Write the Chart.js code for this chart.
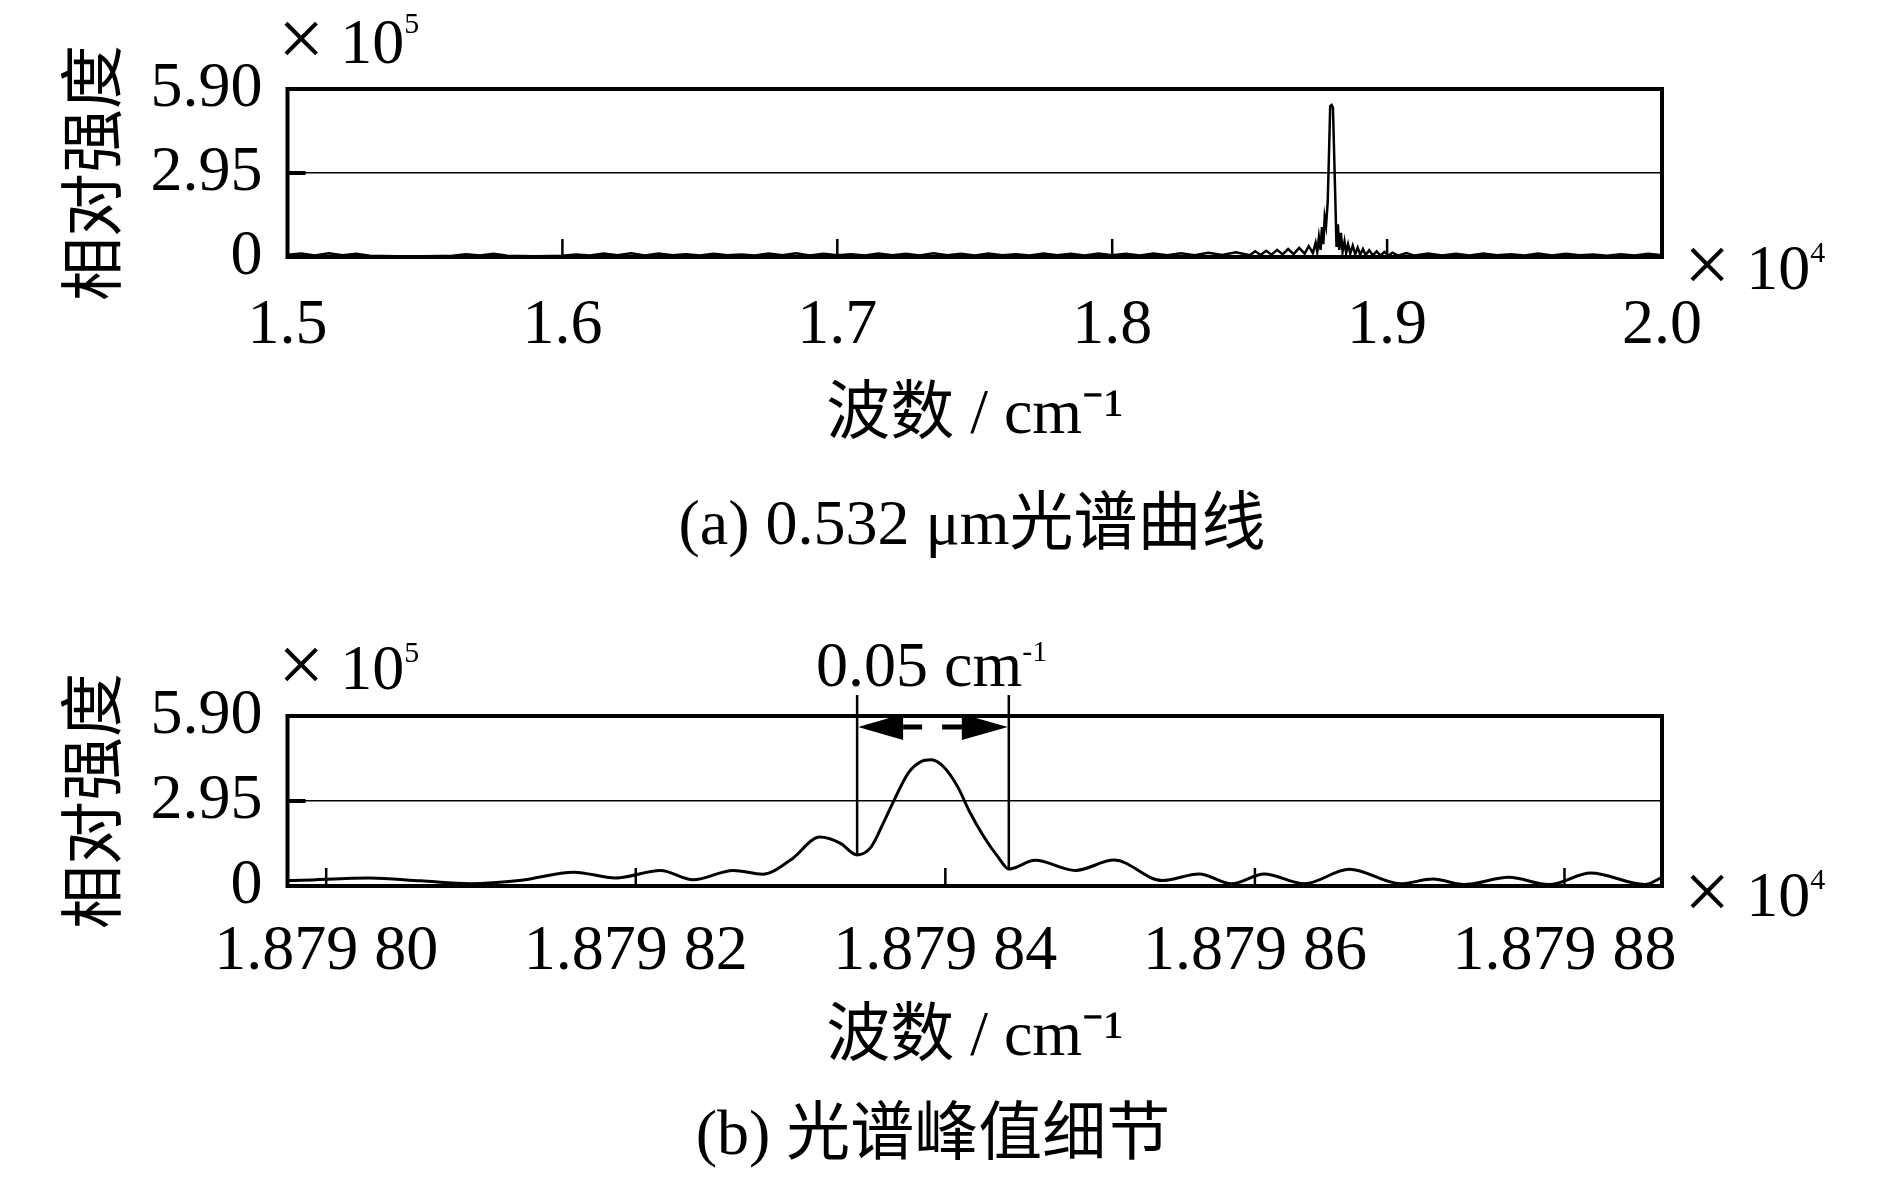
<!DOCTYPE html>
<html>
<head>
<meta charset="utf-8">
<script src="https://cdn.jsdelivr.net/npm/chart.js@4.4.1/dist/chart.umd.min.js"></script>
<style>
  body { margin: 0; background: #fff; }
  #page { position: relative; width: 1890px; height: 1181px; overflow: hidden; background: #fff; }
  canvas { position: absolute; left: 0; }
  .txt { position: absolute; font-family: 'Liberation Serif', 'Noto Sans CJK SC', serif; font-size: 64px; line-height: 64px; white-space: nowrap; color: #000; }
  .sup { position: relative; font-size: 30px; }
  .times { position: relative; top: 3px; font-size: 82px; line-height: 0; }
  .mid { transform: translateX(-50%); }
</style>
</head>
<body>
<div id="page">
  <canvas id="spectrum" width="1890" height="600" style="top:0"></canvas>
  <canvas id="detail" width="1890" height="581" style="top:600px"></canvas>

  <div class="txt" style="left:278px; top:10px"><span class="times">×</span> 10<span class="sup" style="top:-30px">5</span></div>
  <div class="txt" style="left:1684px; top:236px"><span class="times">×</span> 10<span class="sup" style="top:-27px">4</span></div>
  <div class="txt mid" style="left:972px; top:491px">(a) 0.532 μm光谱曲线</div>

  <div class="txt" style="left:278px; top:636px"><span class="times">×</span> 10<span class="sup" style="top:-27px">5</span></div>
  <div class="txt" style="left:816px; top:633px">0.05 cm<span class="sup" style="top:-25px">-1</span></div>
  <div class="txt" style="left:1684px; top:863px"><span class="times">×</span> 10<span class="sup" style="top:-27px">4</span></div>
  <div class="txt mid" style="left:933px; top:1101px">(b) 光谱峰值细节</div>
</div>
<script>
const FONT = "'Liberation Serif', 'Noto Sans CJK SC', serif";

// y axis (both panels), relative intensity x 10^5
const yTicks = [0, 2.95, 5.9];
const yTickLabels = ['0', '2.95', '5.90'];

// (a) full spectrum, wavenumber x 10^4 cm^-1
const xTicksA = [1.5, 1.6, 1.7, 1.8, 1.9, 2.0];
const xTickLabelsA = ['1.5', '1.6', '1.7', '1.8', '1.9', '2.0'];
const waveA = [
  1.500, 1.505, 1.510, 1.515, 1.520, 1.525, 1.530, 1.540, 1.550, 1.560,
  1.565, 1.570, 1.575, 1.580, 1.590, 1.600, 1.605, 1.610, 1.615, 1.620,
  1.625, 1.630, 1.635, 1.640, 1.645, 1.650, 1.655, 1.660, 1.665, 1.670,
  1.675, 1.680, 1.685, 1.690, 1.695, 1.700, 1.705, 1.710, 1.715, 1.720,
  1.725, 1.730, 1.735, 1.740, 1.745, 1.750, 1.755, 1.760, 1.765, 1.770,
  1.775, 1.780, 1.785, 1.790, 1.795, 1.800, 1.805, 1.810, 1.815, 1.820,
  1.825, 1.830, 1.835, 1.840, 1.845, 1.850, 1.852, 1.854, 1.856, 1.858,
  1.860, 1.862, 1.864, 1.866, 1.868, 1.870, 1.8715, 1.873, 1.8740, 1.8746,
  1.8752, 1.8758, 1.8763, 1.8768, 1.8773, 1.8778, 1.8784, 1.8788, 1.8793, 1.8798,
  1.8803, 1.8808, 1.8812, 1.8816, 1.8821, 1.8826, 1.8832, 1.8838, 1.8845, 1.8851,
  1.8858, 1.8866, 1.8875, 1.8884, 1.8893, 1.8902, 1.8912, 1.8922, 1.8935, 1.8948,
  1.8962, 1.8976, 1.8990, 1.9005, 1.902, 1.904, 1.907, 1.910, 1.915, 1.920,
  1.925, 1.930, 1.935, 1.940, 1.945, 1.950, 1.955, 1.960, 1.965, 1.970,
  1.975, 1.980, 1.985, 1.990, 1.995, 2.000
];
const intensityA = [
  0.08, 0.12, 0.05, 0.13, 0.06, 0.11, 0.04, 0.03, 0.03, 0.04,
  0.10, 0.05, 0.11, 0.04, 0.03, 0.04, 0.09, 0.05, 0.12, 0.06,
  0.13, 0.05, 0.12, 0.06, 0.10, 0.05, 0.11, 0.06, 0.09, 0.05,
  0.12, 0.06, 0.13, 0.05, 0.11, 0.06, 0.10, 0.05, 0.12, 0.06,
  0.11, 0.05, 0.13, 0.06, 0.11, 0.05, 0.12, 0.06, 0.10, 0.05,
  0.12, 0.06, 0.11, 0.05, 0.12, 0.06, 0.11, 0.05, 0.12, 0.06,
  0.13, 0.06, 0.15, 0.07, 0.17, 0.06, 0.20, 0.07, 0.22, 0.08,
  0.25, 0.09, 0.28, 0.10, 0.32, 0.12, 0.38, 0.14, 0.50, 0.18,
  0.70, 0.25, 1.05, 0.45, 1.40, 1.10, 1.95, 3.40, 5.30, 5.34,
  5.25, 3.40, 1.90, 0.35, 1.15, 0.25, 0.85, 0.18, 0.55, 0.14,
  0.45, 0.12, 0.40, 0.10, 0.33, 0.08, 0.28, 0.07, 0.24, 0.06,
  0.20, 0.05, 0.18, 0.05, 0.15, 0.05, 0.14, 0.05, 0.12, 0.05,
  0.11, 0.05, 0.12, 0.06, 0.10, 0.05, 0.12, 0.05, 0.11, 0.06,
  0.09, 0.04, 0.10, 0.05, 0.11, 0.06
];

// (b) peak detail
const xTicksB = [1.8798, 1.87982, 1.87984, 1.87986, 1.87988];
const xTickLabelsB = ['1.879 80', '1.879 82', '1.879 84', '1.879 86', '1.879 88'];
const waveB = [
  1.8797976, 1.8797984, 1.8798028, 1.8798061, 1.8798093, 1.8798126, 1.8798160, 1.8798187,
  1.8798216, 1.8798237, 1.8798263, 1.8798282, 1.8798300, 1.8798319, 1.8798332, 1.8798343,
  1.8798352, 1.8798360, 1.8798367, 1.8798376, 1.8798384, 1.8798391, 1.8798399, 1.8798408,
  1.8798416, 1.8798425, 1.8798434, 1.8798441, 1.8798444, 1.8798458, 1.8798484, 1.8798509,
  1.8798540, 1.8798564, 1.8798585, 1.8798606, 1.8798632, 1.8798661, 1.8798694, 1.8798715,
  1.8798735, 1.8798764, 1.8798790, 1.8798817, 1.8798852, 1.8798863
];
const intensityB = [
  0.19, 0.20, 0.28, 0.18, 0.08, 0.20, 0.48, 0.28,
  0.54, 0.22, 0.54, 0.41, 0.90, 1.70, 1.49, 1.08,
  1.35, 2.19, 2.99, 3.92, 4.31, 4.38, 4.13, 3.44,
  2.54, 1.70, 1.01, 0.59, 0.62, 0.89, 0.54, 0.90,
  0.19, 0.42, 0.08, 0.42, 0.08, 0.58, 0.08, 0.24,
  0.05, 0.30, 0.05, 0.45, 0.05, 0.30
];
// the two marked wavenumbers of the 0.05 cm^-1 span
const spanWaves = [1.8798343, 1.8798441];

// plot box and inward tick marks
const frame = {
  id: 'frame',
  afterDatasetsDraw(chart) {
    const {ctx, chartArea: a, scales: {x, y}} = chart;
    ctx.save();
    ctx.strokeStyle = '#000';
    ctx.lineWidth = 2.5;
    ctx.beginPath();
    x.ticks.forEach(t => {
      const px = x.getPixelForValue(t.value);
      ctx.moveTo(px, a.bottom);
      ctx.lineTo(px, a.bottom - 18);
    });
    ctx.stroke();
    const py = y.getPixelForValue(yTicks[1]);
    ctx.lineWidth = 4;
    ctx.beginPath();
    ctx.moveTo(a.left, py);
    ctx.lineTo(a.left + 18, py);
    ctx.stroke();
    ctx.strokeRect(a.left, a.top, a.right - a.left, a.bottom - a.top);
    ctx.restore();
  }
};

// the two vertical markers and the dashed double arrow in (b)
const spanMarks = {
  id: 'spanMarks',
  afterDatasetsDraw(chart) {
    const {ctx, chartArea: a, scales: {x, y}} = chart;
    const L = x.getPixelForValue(spanWaves[0]);
    const R = x.getPixelForValue(spanWaves[1]);
    const yL = y.getPixelForValue(intensityB[waveB.indexOf(spanWaves[0])]);
    const yR = y.getPixelForValue(intensityB[waveB.indexOf(spanWaves[1])]);
    const top = a.top - 21;
    const ay = a.top + 11;
    ctx.save();
    ctx.strokeStyle = '#000';
    ctx.fillStyle = '#000';
    ctx.lineWidth = 2.5;
    ctx.beginPath();
    ctx.moveTo(L, top); ctx.lineTo(L, yL);
    ctx.moveTo(R, top); ctx.lineTo(R, yR);
    ctx.stroke();
    // heads
    ctx.beginPath();
    ctx.moveTo(L + 1, ay); ctx.lineTo(L + 46, ay - 13); ctx.lineTo(L + 46, ay + 13); ctx.closePath();
    ctx.moveTo(R - 1, ay); ctx.lineTo(R - 47, ay - 13); ctx.lineTo(R - 47, ay + 13); ctx.closePath();
    ctx.fill();
    // dashes
    ctx.lineWidth = 5;
    ctx.beginPath();
    ctx.moveTo(L + 46, ay); ctx.lineTo(L + 65, ay);
    ctx.moveTo(L + 85, ay); ctx.lineTo(L + 105, ay);
    ctx.stroke();
    ctx.restore();
  }
};

function spectrumChart(el, o) {
  return new Chart(el, {
    type: 'line',
    data: {
      datasets: [{
        data: o.waves.map((w, i) => ({x: w, y: o.values[i]})),
        borderColor: '#000',
        borderWidth: o.lineWidth,
        pointRadius: 0,
        fill: false,
        tension: 0,
        cubicInterpolationMode: o.smooth ? 'monotone' : 'default'
      }]
    },
    options: {
      responsive: false,
      animation: false,
      devicePixelRatio: 1,
      layout: {padding: o.padding},
      plugins: {legend: {display: false}, tooltip: {enabled: false}},
      scales: {
        x: {
          type: 'linear',
          min: o.xMin,
          max: o.xMax,
          afterBuildTicks: s => { s.ticks = o.xTicks.map(v => ({value: v})); },
          afterFit: s => { s.height = o.xAxisHeight; },
          grid: {display: false, drawTicks: false},
          border: {display: false},
          ticks: {
            autoSkip: false, maxRotation: 0, padding: o.xTickPad, color: '#000',
            font: {family: FONT, size: 64},
            callback: (v, i) => o.xTickLabels[i]
          },
          title: {
            display: true, text: '波数 / cm⁻¹', color: '#000',
            font: {family: FONT, size: 64}, padding: {top: 0, bottom: 0}
          }
        },
        y: {
          min: 0,
          max: 5.9,
          afterBuildTicks: s => { s.ticks = yTicks.map(v => ({value: v})); },
          afterFit: s => { s.width = 287.5; },
          grid: {
            drawTicks: false,
            lineWidth: 1.5,
            color: c => (c.tick && c.tick.value === yTicks[1]) ? '#000' : 'rgba(0,0,0,0)'
          },
          border: {display: false},
          ticks: {
            padding: 25, color: '#000',
            font: {family: FONT, size: 64},
            callback: (v, i) => yTickLabels[i]
          },
          title: {
            display: true, text: '相对强度', color: '#000',
            font: {family: FONT, size: 64}, padding: {top: 60, bottom: 0}
          }
        }
      }
    },
    plugins: o.extra ? [frame, o.extra] : [frame]
  });
}

spectrumChart(document.getElementById('spectrum'), {
  waves: waveA, values: intensityA, lineWidth: 2.5, smooth: false,
  xMin: 1.5, xMax: 2.0, xTicks: xTicksA, xTickLabels: xTickLabelsA,
  padding: {left: 0, right: 228, top: 89, bottom: 145.6},
  xAxisHeight: 197.4, xTickPad: 31
});

spectrumChart(document.getElementById('detail'), {
  waves: waveB, values: intensityB, lineWidth: 3, smooth: true,
  xMin: 1.8797975, xMax: 1.8798863, xTicks: xTicksB, xTickLabels: xTickLabelsB,
  padding: {left: 0, right: 228, top: 116, bottom: 104.6},
  xAxisHeight: 190.4, xTickPad: 28, extra: spanMarks
});
</script>
</body>
</html>
